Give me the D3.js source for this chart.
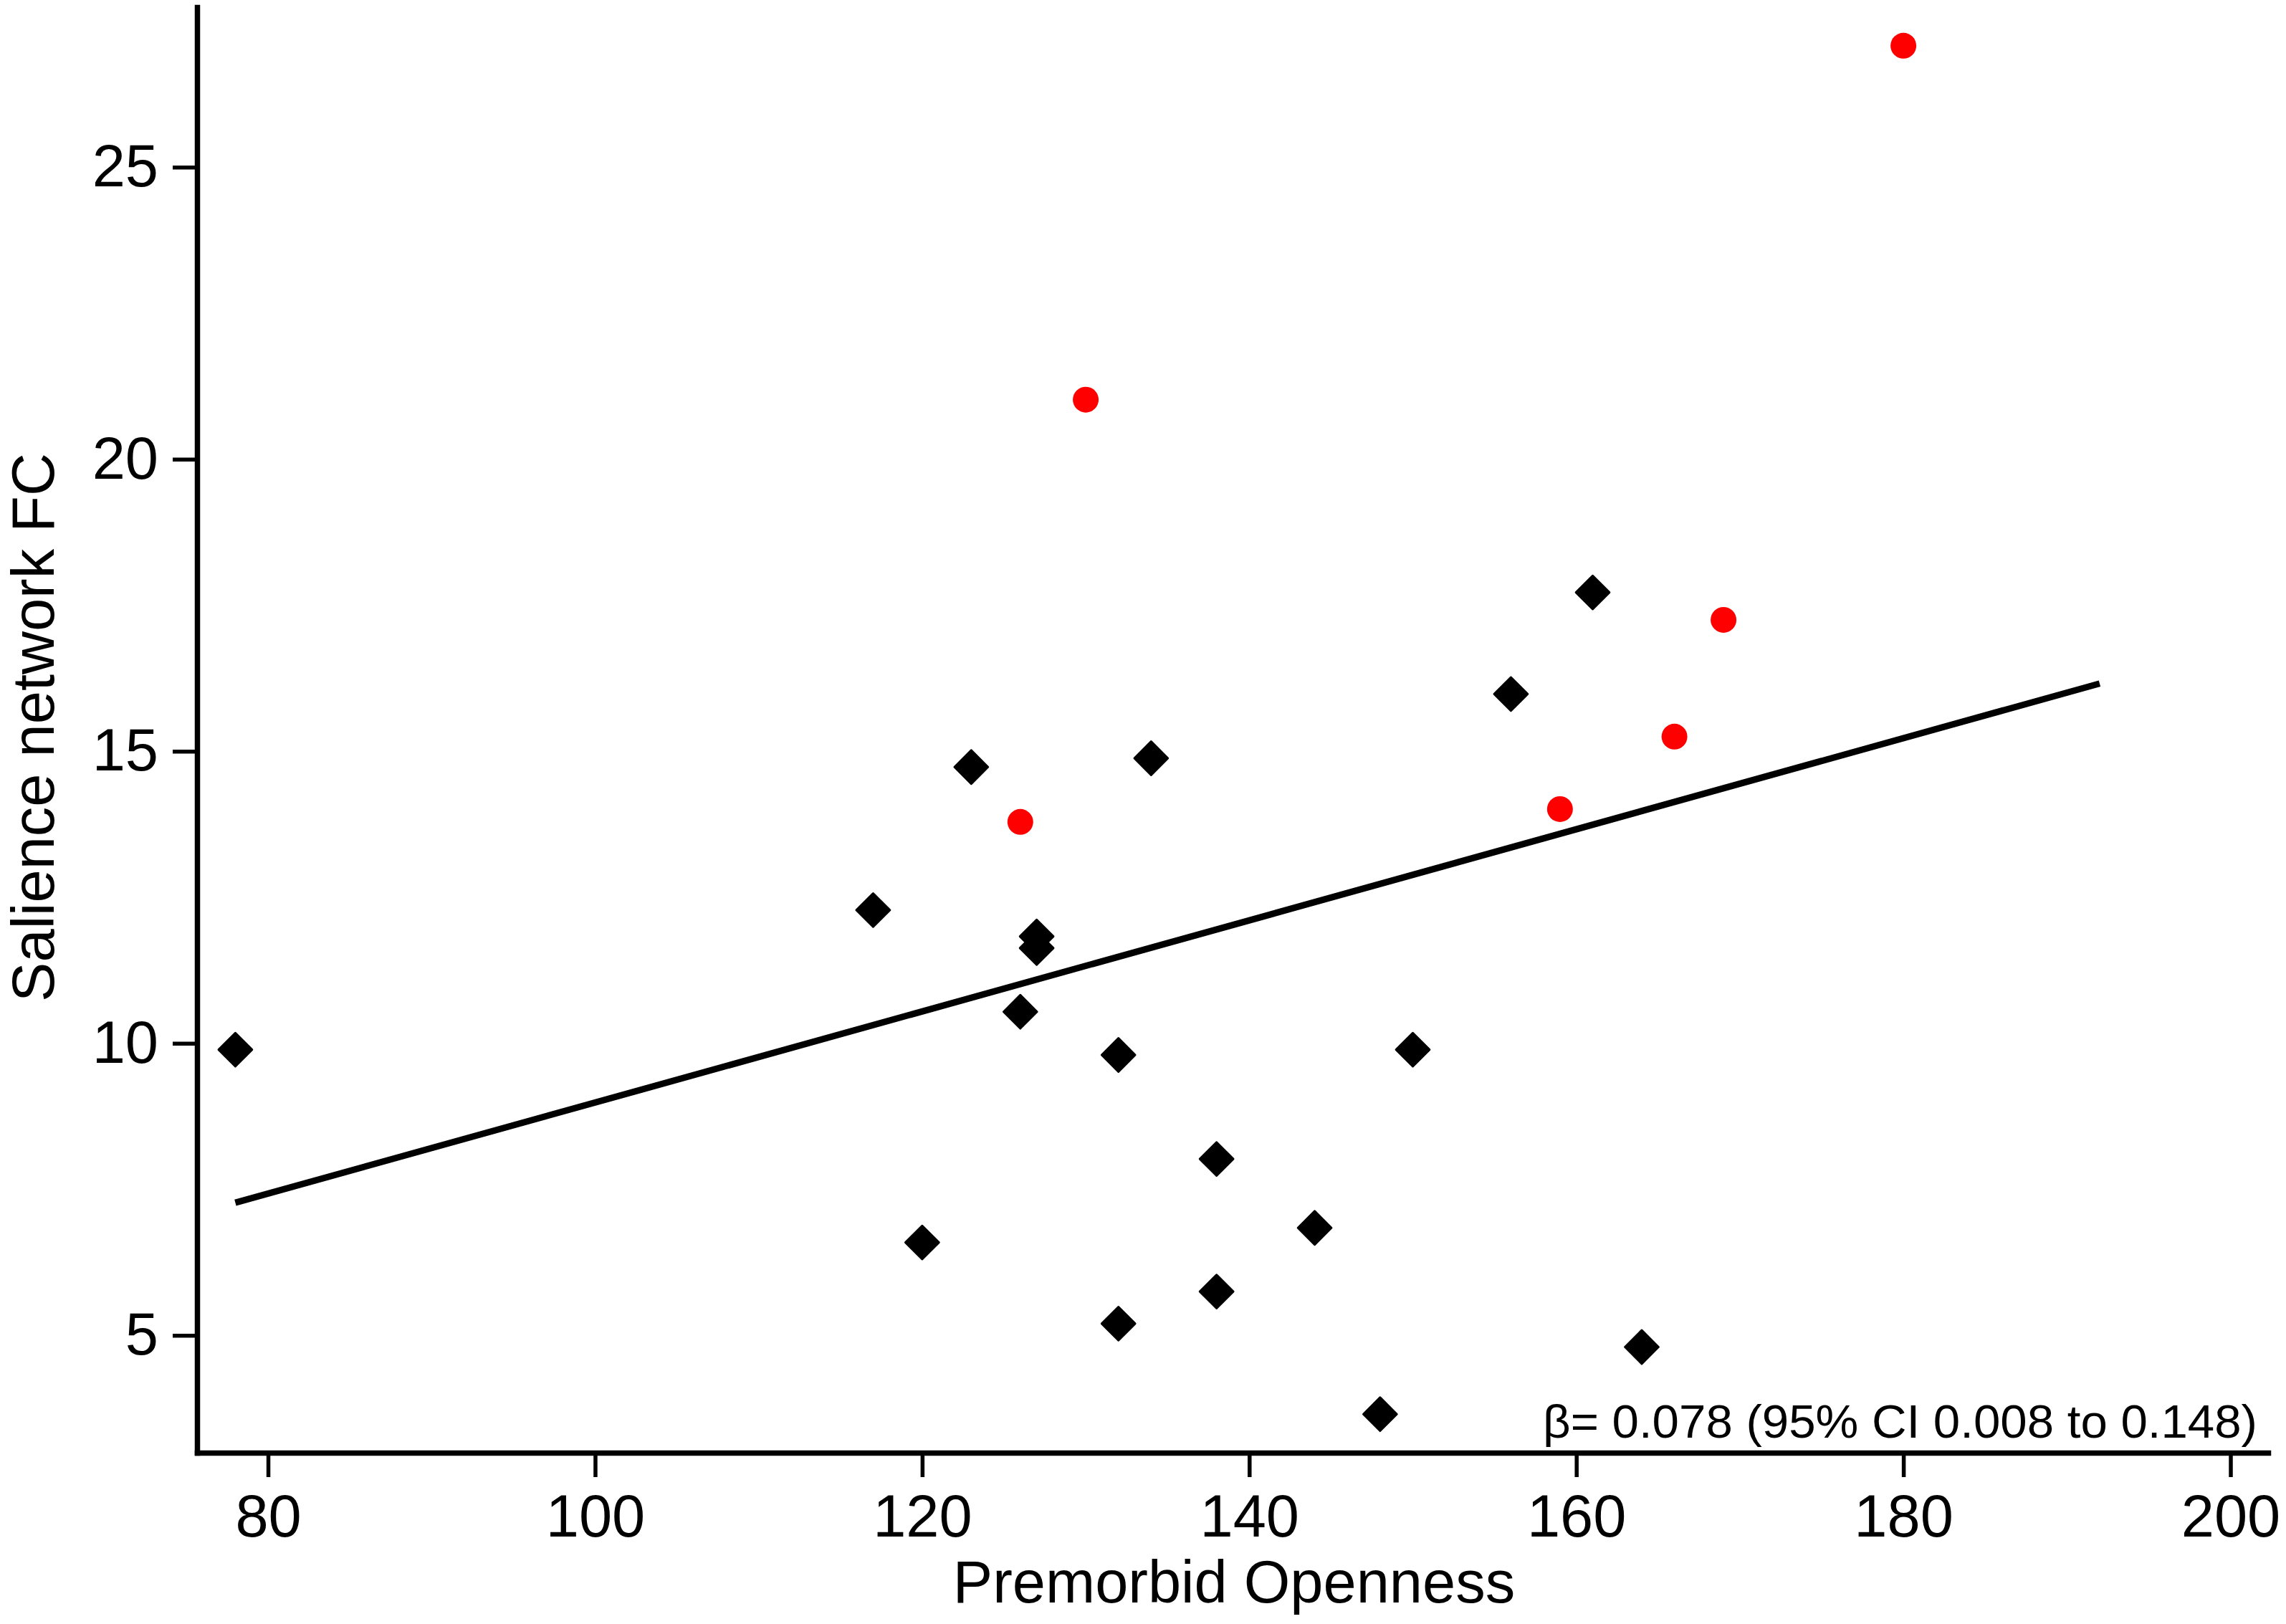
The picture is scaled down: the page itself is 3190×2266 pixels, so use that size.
<!DOCTYPE html>
<html>
<head>
<meta charset="utf-8">
<script src="https://cdn.jsdelivr.net/npm/d3@7"></script>
<style>
  html, body { margin: 0; padding: 0; background: #fff; }
  text { font-family: "Liberation Sans", Arial, Helvetica, sans-serif; fill: #000; }
</style>
</head>
<body>
<div id="chart"></div>
<script>
// black diamonds
const blackX = [78, 117, 120, 123, 126, 127, 127, 132, 132, 134, 138, 138, 144, 148, 150, 156, 161, 164];
const blackY = [9.89, 12.28, 6.59, 14.73, 10.54, 11.83, 11.63, 9.80, 5.20, 14.88, 8.02, 5.75, 6.84, 3.65, 9.89, 15.98, 17.72, 4.80];

// red circles
const redX = [126, 130, 159, 166, 169, 180];
const redY = [13.79, 21.02, 14.01, 15.25, 17.25, 27.08];

// fitted line end points
const fitX = [78, 192];
const fitY = [7.27, 16.16];

const xTicks = [80, 100, 120, 140, 160, 180, 200];
const yTicks = [5, 10, 15, 20, 25];

const xTitle = "Premorbid Openness";
const yTitle = "Salience network FC";
const note = "\u03b2= 0.078 (95% CI 0.008 to 0.148)";

// SVG dimensions
const width = 3190;
const height = 2266;

// plot area (axis line positions)
const plotLeft = 275;
const plotRight = 3165;
const plotTop = 10;
const plotBottom = 2027;

const svg = d3.select("#chart")
    .append("svg")
    .attr("width", width)
    .attr("height", height);

svg.append("rect").attr("width", width).attr("height", height).attr("fill", "#fff");

const x = d3.scaleLinear().domain([75.66, 202.3]).range([plotLeft, plotRight]);
const y = d3.scaleLinear().domain([2.99, 27.74]).range([plotBottom, plotTop]);

// axes
const xAxis = svg.append("g")
    .attr("transform", `translate(0,${plotBottom})`)
    .call(d3.axisBottom(x).tickValues(xTicks).tickFormat(d3.format("d"))
        .tickSize(34).tickSizeOuter(0).tickPadding(24));

const yAxis = svg.append("g")
    .attr("transform", `translate(${plotLeft},0)`)
    .call(d3.axisLeft(y).tickValues(yTicks).tickFormat(d3.format("d"))
        .tickSize(34).tickSizeOuter(0).tickPadding(20));

[xAxis, yAxis].forEach(g => {
    g.attr("font-family", null).attr("font-size", null);
    g.select(".domain")
        .attr("stroke", "#000")
        .attr("stroke-width", 7.5)
        .attr("stroke-linecap", "square");
    g.selectAll(".tick line").attr("stroke", "#000").attr("stroke-width", 5.5);
    g.selectAll(".tick text").attr("font-size", 83).attr("fill", "#000");
});

// fitted line
const fitPts = fitX.map((v, i) => [v, fitY[i]]);
svg.append("path")
    .datum(fitPts)
    .attr("fill", "none")
    .attr("stroke", "#000")
    .attr("stroke-width", 9)
    .attr("d", d3.line().x(d => x(d[0])).y(d => y(d[1])));

// diamonds
const diamond = d3.symbol().type(d3.symbolSquare).size(1090);
svg.append("g")
    .selectAll("path")
    .data(blackX.map((v, i) => [v, blackY[i]]))
    .enter().append("path")
    .attr("d", diamond)
    .attr("transform", d => `translate(${x(d[0])},${y(d[1])}) rotate(45)`)
    .attr("fill", "#000")
    .attr("stroke", "#000")
    .attr("stroke-width", 3)
    .attr("stroke-linejoin", "round");

// red dots
svg.append("g")
    .selectAll("circle")
    .data(redX.map((v, i) => [v, redY[i]]))
    .enter().append("circle")
    .attr("cx", d => x(d[0]))
    .attr("cy", d => y(d[1]))
    .attr("r", 18)
    .attr("fill", "#ff0000");

// axis titles
svg.append("text")
    .attr("x", 1722)
    .attr("y", 2236)
    .attr("text-anchor", "middle")
    .attr("font-size", 83)
    .text(xTitle);

svg.append("text")
    .attr("transform", "translate(75,1015) rotate(-90)")
    .attr("text-anchor", "middle")
    .attr("font-size", 83)
    .text(yTitle);

// estimate note
svg.append("text")
    .attr("x", 2153)
    .attr("y", 2006)
    .attr("font-size", 65)
    .attr("textLength", 997)
    .attr("lengthAdjust", "spacingAndGlyphs")
    .text(note);
</script>
</body>
</html>
